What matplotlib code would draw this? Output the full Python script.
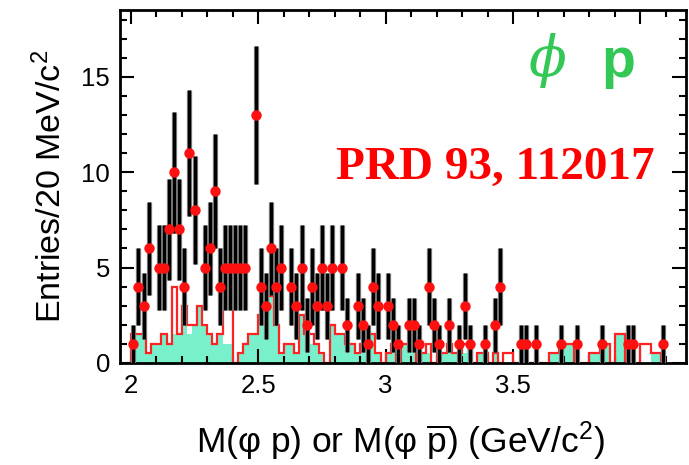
import numpy as np
import matplotlib
matplotlib.use("Agg")
import matplotlib.pyplot as plt
from matplotlib.ticker import MultipleLocator

plt.rcParams["font.family"] = ["Liberation Sans", "DejaVu Sans"]
plt.rcParams["mathtext.fontset"] = "custom"
plt.rcParams["mathtext.rm"] = "Liberation Sans"
plt.rcParams["mathtext.it"] = "Liberation Sans:italic"

# 20 MeV bins starting at 2.00 GeV/c^2
bin_lo = 2.00
bin_w = 0.02
n_bins = 105

# data: bin index -> entries
data_bins = [0, 1, 2, 3, 5, 6, 7, 8, 9, 10, 11, 12, 14, 15, 16, 17, 18, 19, 20, 21,
             22, 24, 25, 26, 27, 28, 29, 31, 32, 33, 34, 35, 36, 37, 38, 39, 41, 42,
             44, 45, 46, 47, 48, 50, 51, 52, 54, 55, 56, 58, 59, 60, 62, 64, 65, 66,
             69, 71, 72, 76, 77, 79, 84, 87, 92, 97, 98, 104]
data_counts = [1, 4, 3, 6, 5, 5, 7, 10, 7, 4, 11, 8, 5, 6, 9, 4, 5, 5, 5, 5,
               5, 13, 4, 3, 6, 4, 5, 4, 3, 5, 2, 4, 3, 5, 3, 5, 5, 2,
               3, 2, 1, 4, 3, 3, 2, 1, 2, 2, 1, 4, 2, 1, 2, 1, 3, 1,
               1, 2, 4, 1, 1, 1, 1, 1, 1, 1, 1, 1]

# sideband estimate (filled) and total background (outline)
bkg_fill = [1.5, 1.5, 1.5, 0.5, 1.0, 1.0, 1.5, 1.0, 1.5, 1.5,
            3.0, 1.5, 2.0, 3.0, 2.0, 1.5, 1.0, 1.5, 1.0, 1.0,
            0.0, 0.5, 1.0, 1.5, 1.5, 2.5, 2.5, 3.5, 2.0, 0.5,
            1.0, 1.0, 0.5, 2.5, 1.5, 1.0, 1.0, 0.5, 0.0, 2.0,
            1.5, 1.5, 0.5, 1.0, 0.5, 1.0, 1.5, 1.5, 0.5, 0.0,
            0.5, 1.0, 0.0, 1.0, 1.0, 1.0, 0.0, 0.5, 0.5, 0.0,
            0.5, 0.5, 1.0, 0.5, 0.0, 0.5, 1.0, 0.0, 0.5, 0.5,
            0.0, 0.5, 0.0, 0.0, 0.0, 0.0, 0.0, 0.0, 0.0, 0.0,
            0.0, 0.0, 0.5, 0.5, 1.0, 1.0, 1.0, 0.0, 0.0, 0.0,
            0.5, 0.5, 1.0, 1.0, 0.0, 1.5, 1.5, 0.0, 0.0, 0.0,
            0.0, 0.0, 0.5, 0.5, 0.0]
bkg_line = [1.5, 1.5, 1.5, 0.5, 1.0, 1.0, 1.5, 1.0, 4.0, 1.5,
            3.0, 2.0, 2.0, 3.0, 2.0, 1.5, 1.0, 1.5, 3.0, 3.0,
            0.0, 0.5, 1.0, 1.5, 1.5, 2.5, 2.5, 3.5, 2.0, 0.5,
            1.0, 1.0, 0.5, 2.5, 1.5, 1.5, 1.0, 0.5, 0.0, 2.0,
            1.5, 1.5, 1.0, 1.0, 0.5, 1.0, 1.5, 1.5, 0.5, 0.0,
            0.5, 1.0, 0.0, 1.0, 1.0, 1.0, 0.0, 0.5, 1.0, 0.0,
            0.5, 0.5, 1.0, 0.5, 0.5, 1.0, 1.0, 0.0, 0.5, 0.5,
            0.0, 0.5, 0.0, 0.5, 0.5, 0.0, 0.0, 0.0, 0.0, 0.0,
            0.0, 0.0, 0.5, 0.5, 1.0, 1.0, 1.0, 0.0, 0.0, 0.0,
            0.5, 0.5, 1.0, 1.0, 0.0, 1.5, 1.5, 0.0, 0.0, 0.0,
            1.0, 1.0, 0.5, 0.5, 0.0]

x_ticks = [2.0, 2.5, 3.0, 3.5, 4.0]
x_tick_labels = ["2", "2.5", "3", "3.5", ""]

edges = bin_lo + bin_w * np.arange(n_bins + 1)
centers = bin_lo + bin_w * (np.array(data_bins) + 0.5)
counts = np.array(data_counts, dtype=float)
errs = np.sqrt(counts)

fig = plt.figure(figsize=(6.89, 4.65), dpi=100)
ax = fig.add_axes([0.174, 0.2194, 0.8216, 0.7591])

ax.stairs(bkg_fill, edges, fill=True, color="#78f0cc", zorder=1)
ax.stairs(bkg_line, edges, color="#ff2222", lw=1.6, zorder=2)

# error bars with a soft grey edge
ax.errorbar(centers, counts, yerr=errs, fmt="none", ecolor="#8a8a8a",
            elinewidth=3.8, capsize=0, zorder=3)
ax.errorbar(centers, counts, yerr=errs, fmt="none", ecolor="black",
            elinewidth=2.4, capsize=0, zorder=4)
ax.plot(centers, counts, "o", color="#ff1010", markersize=7.5,
        markeredgewidth=0, zorder=5)

ax.set_xlim(1.957, 4.179)
ax.set_ylim(0, 18.5)

ax.set_xticks(x_ticks, x_tick_labels)
ax.xaxis.set_minor_locator(MultipleLocator(0.1))
ax.yaxis.set_major_locator(MultipleLocator(5))
ax.yaxis.set_minor_locator(MultipleLocator(1))
ax.tick_params(which="both", direction="in", top=True, right=True, width=1.5)
ax.tick_params(which="major", length=10, labelsize=18.5)
ax.tick_params(axis="x", which="major", pad=8)
ax.tick_params(axis="y", which="major", pad=7)
ax.tick_params(which="minor", length=5)
for s in ax.spines.values():
    s.set_linewidth(2.0)

ax.set_xlabel(r"M(φ p) or M(φ $\overline{\mathrm{p}}$) (GeV/c$^2$)", fontsize=25.5)
ax.xaxis.set_label_coords(0.495, -0.16)
ax.set_ylabel(r"Entries/20 MeV/c$^2$", fontsize=24.5)
ax.yaxis.set_label_coords(-0.092, 0.50)

ax.text(0.756, 0.858, "ϕ", transform=ax.transAxes, color="#33c856",
        fontsize=40, family="DejaVu Serif", style="italic", ha="center",
        va="center")
ax.text(0.88, 0.85, "p", transform=ax.transAxes, color="#33c856",
        fontsize=40, fontweight="bold", ha="center", va="center")
ax.text(0.663, 0.552, "PRD 93, 112017", transform=ax.transAxes,
        color="#ff0000", fontsize=34, fontweight="bold",
        family="Liberation Serif", ha="center", va="center")

fig.savefig("out.png", dpi=100)
